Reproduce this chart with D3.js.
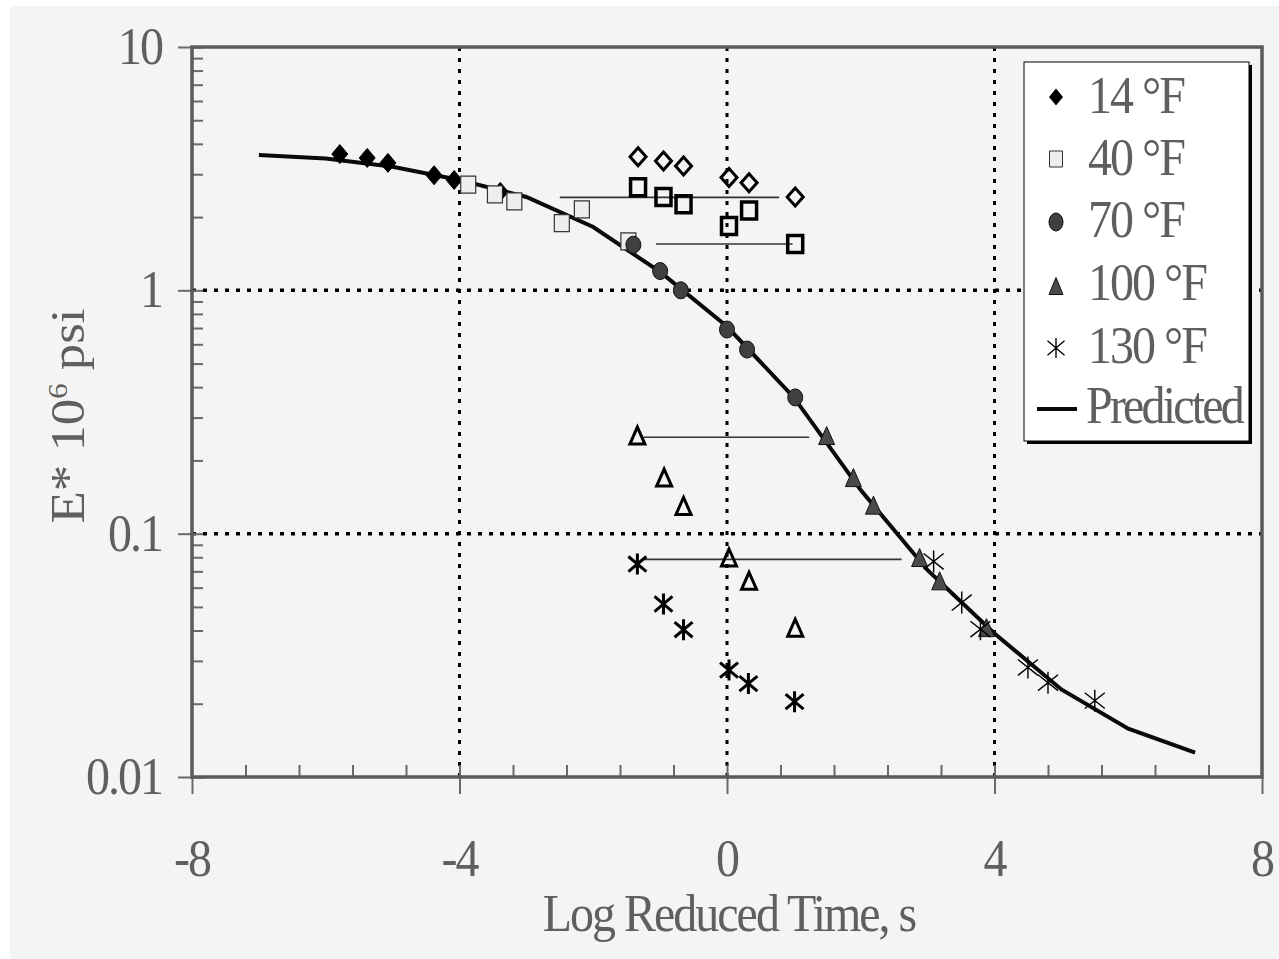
<!DOCTYPE html>
<html>
<head>
<meta charset="utf-8">
<script src="https://cdnjs.cloudflare.com/ajax/libs/d3/7.8.5/d3.min.js"></script>
<style>
  body { margin: 0; background: #ffffff; }
  text { font-family: "Liberation Serif", "Times New Roman", serif; fill: #5f5f5f; }
</style>
</head>
<body>
<div id="chart"></div>
<script>
// predicted master curve
var predX = [-7, -6, -5, -4, -3, -2, -1, 0, 1, 2, 3, 4, 5, 6, 7];
var predE = [3.60, 3.48, 3.22, 2.84, 2.42, 1.82, 1.19, 0.71, 0.363, 0.151, 0.0708, 0.0389, 0.0229, 0.0158, 0.0126];

// 14 F
var open14X = [-1.33, -0.95, -0.65, 0.03, 0.33, 1.02];
var open14E = [3.54, 3.40, 3.24, 2.91, 2.77, 2.42];
var shift14X = [-5.79, -5.38, -5.07, -4.38, -4.08, -3.39];
var shift14E = [3.63, 3.50, 3.34, 2.97, 2.84, 2.54];
// 40 F
var open40X = [-1.33, -0.95, -0.65, 0.03, 0.33, 1.02];
var open40E = [2.65, 2.42, 2.26, 1.84, 2.13, 1.55];
var shift40X = [-3.87, -3.47, -3.18, -2.47, -2.17, -1.475];
var shift40E = [2.72, 2.48, 2.32, 1.89, 2.15, 1.59];
// 70 F (reference temperature)
var ref70X = [-1.40, -1.00, -0.69, 0, 0.30, 1.02];
var ref70E = [1.54, 1.20, 1.00, 0.69, 0.571, 0.363];
// 100 F
var open100X = [-1.34, -0.94, -0.65, 0.03, 0.33, 1.02];
var open100E = [0.253, 0.170, 0.130, 0.0798, 0.064, 0.0411];
var shift100X = [1.49, 1.89, 2.19, 2.88, 3.18, 3.88];
var shift100E = [0.253, 0.170, 0.131, 0.0798, 0.064, 0.0411];
// 130 F
var open130X = [-1.34, -0.95, -0.65, 0.03, 0.32, 1.01];
var open130E = [0.0750, 0.0514, 0.0403, 0.0275, 0.0242, 0.0204];
var shift130X = [3.09, 3.51, 3.79, 4.50, 4.80, 5.50];
var shift130E = [0.0769, 0.0521, 0.0405, 0.0282, 0.0244, 0.0206];

// thin horizontal shift lines
var shiftLineX1 = [-2.50, -1.06, -1.25, -1.25];
var shiftLineX2 = [0.78, 0.98, 1.23, 2.61];
var shiftLineE = [2.41, 1.55, 0.249, 0.0784];

// axes
var xMajorTicks = [-8, -4, 0, 4, 8];
var xTickLabels = ["-8", "-4", "0", "4", "8"];
var xMinorTicks = [-7.2, -6.4, -5.6, -4.8, -4, -3.2, -2.4, -1.6, -0.8, 0, 0.8, 1.6, 2.4, 3.2, 4, 4.8, 5.6, 6.4, 7.2];
var xGrid = [-4, 0, 4];
var yMajorTicks = [0.01, 0.1, 1, 10];
var yTickLabels = ["0.01", "0.1", "1", "10"];
var yGrid = [0.1, 1];

var legendLabels = ["14 °F", "40 °F", "70 °F", "100 °F", "130 °F", "Predicted"];

var width = 1279, height = 959;
var plot = {left: 192, right: 1262, top: 47, bottom: 777};
var axisCol = "#5a5a5a";
var stretch = 1.1;   // the original figure is a little taller than wide

var svg = d3.select("#chart").append("svg")
    .attr("width", width)
    .attr("height", height);

// background
svg.append("rect").attr("width", width).attr("height", height).attr("fill", "#ffffff");
svg.append("rect").attr("x", 10).attr("y", 6)
   .attr("width", width - 10).attr("height", height - 6).attr("fill", "#f4f4f4");

var xScale = d3.scaleLinear().domain([-8, 8]).range([plot.left, plot.right]);
var yScale = d3.scaleLog().domain([0.01, 10]).range([plot.bottom, plot.top]);

// grid
svg.append("g").selectAll("line").data(xGrid).join("line")
   .attr("x1", d => xScale(d)).attr("x2", d => xScale(d))
   .attr("y1", plot.top).attr("y2", plot.bottom)
   .attr("stroke", "#000").attr("stroke-width", 3).attr("stroke-dasharray", "4,7");
svg.append("g").selectAll("line").data(yGrid).join("line")
   .attr("x1", plot.left).attr("x2", plot.right)
   .attr("y1", d => yScale(d)).attr("y2", d => yScale(d))
   .attr("stroke", "#000").attr("stroke-width", 3.5).attr("stroke-dasharray", "4,7");

// ticks
function styleAxis(g) {
  g.select(".domain").remove();
  g.selectAll(".tick line").attr("stroke", "#6a6a6a").attr("stroke-width", 2);
  g.selectAll(".tick text").remove();
}
svg.append("g").attr("transform", "translate(0," + plot.bottom + ")")
   .call(d3.axisTop(xScale).tickValues(xMinorTicks).tickSize(12)).call(styleAxis);
svg.append("g").attr("transform", "translate(0," + plot.bottom + ")")
   .call(d3.axisBottom(xScale).tickValues(xMajorTicks).tickSize(17)).call(styleAxis);
svg.append("g").attr("transform", "translate(" + plot.left + ",0)")
   .call(d3.axisRight(yScale).tickValues(yScale.ticks()).tickSize(11)).call(styleAxis);
svg.append("g").attr("transform", "translate(" + plot.left + ",0)")
   .call(d3.axisLeft(yScale).tickValues(yMajorTicks).tickSize(14)).call(styleAxis);

// frame
svg.append("rect")
   .attr("x", plot.left).attr("y", plot.top)
   .attr("width", plot.right - plot.left).attr("height", plot.bottom - plot.top)
   .attr("fill", "none").attr("stroke", axisCol).attr("stroke-width", 3.5);

// text placed with a vertical stretch
function place(x, y) { return "translate(" + x + "," + y + ") scale(1," + stretch + ")"; }

// tick labels
svg.append("g").selectAll("text").data(xMajorTicks).join("text")
   .attr("transform", d => place(xScale(d), 876))
   .attr("text-anchor", "middle")
   .attr("font-size", 48).attr("letter-spacing", -2)
   .text((d, i) => xTickLabels[i]);
svg.append("g").selectAll("text").data(yMajorTicks).join("text")
   .attr("transform", d => place(162, yScale(d) + 17))
   .attr("text-anchor", "end")
   .attr("font-size", 48).attr("letter-spacing", -2)
   .text((d, i) => yTickLabels[i]);

// axis titles
svg.append("text")
   .attr("transform", place(729, 931))
   .attr("text-anchor", "middle")
   .attr("font-size", 48).attr("letter-spacing", -2)
   .text("Log Reduced Time, s");
var yl = svg.append("text")
   .attr("transform", "translate(84,416) rotate(-90) scale(" + stretch + ",1)")
   .attr("text-anchor", "middle")
   .attr("font-size", 48).attr("letter-spacing", 0);
yl.append("tspan").text("E* 10");
yl.append("tspan").attr("font-size", 28).attr("dy", -17).text("6");
yl.append("tspan").attr("dy", 17).text(" psi");

// marker shapes
function diamond(w, h) { return "M0," + (-h/2) + "L" + (w/2) + ",0L0," + (h/2) + "L" + (-w/2) + ",0Z"; }
function square(w, h) { return "M" + (-w/2) + "," + (-h/2) + "h" + w + "v" + h + "h" + (-w) + "Z"; }
function triangle(w, h) { return "M0," + (-h/2) + "L" + (w/2) + "," + (h/2) + "L" + (-w/2) + "," + (h/2) + "Z"; }
function asterisk(w, h) {
  return "M0," + (-h/2) + "V" + (h/2) +
         "M" + (-w/2) + "," + (-h*0.36) + "L" + (w/2) + "," + (h*0.36) +
         "M" + (w/2) + "," + (-h*0.36) + "L" + (-w/2) + "," + (h*0.36);
}

// shift lines
svg.append("g").selectAll("line").data(shiftLineE).join("line")
   .attr("x1", (d, i) => xScale(shiftLineX1[i])).attr("x2", (d, i) => xScale(shiftLineX2[i]))
   .attr("y1", d => yScale(d)).attr("y2", d => yScale(d))
   .attr("stroke", "#333").attr("stroke-width", 1.6);

// predicted line
var line = d3.line().x(d => xScale(d[0])).y(d => yScale(d[1]));
svg.append("path")
   .datum(predX.map((d, i) => [d, predE[i]]))
   .attr("d", line)
   .attr("fill", "none").attr("stroke", "#0a0a0a").attr("stroke-width", 4);

function drawMarkers(xs, es, pathFn, fill, stroke, sw) {
  svg.append("g").selectAll("path").data(es).join("path")
     .attr("transform", (d, i) => "translate(" + xScale(xs[i]) + "," + yScale(d) + ")")
     .attr("d", pathFn)
     .attr("fill", fill).attr("stroke", stroke).attr("stroke-width", sw)
     .attr("stroke-linejoin", "miter");
}

// unshifted (open) markers
drawMarkers(open14X, open14E, diamond(16, 18), "none", "#000", 3);
drawMarkers(open40X, open40E, square(15, 17), "none", "#000", 3.5);
drawMarkers(open100X, open100E, triangle(15, 17), "none", "#000", 3);
drawMarkers(open130X, open130E, asterisk(18, 21), "none", "#000", 3);

// shifted (filled) markers
drawMarkers(shift14X, shift14E, diamond(16, 19), "#000", "#000", 1);
drawMarkers(shift40X, shift40E, square(15, 17), "#eeeeee", "#333", 1.2);
svg.append("g").selectAll("ellipse").data(ref70E).join("ellipse")
   .attr("cx", (d, i) => xScale(ref70X[i])).attr("cy", d => yScale(d))
   .attr("rx", 7.5).attr("ry", 8.5)
   .attr("fill", "#404040").attr("stroke", "#111").attr("stroke-width", 1);
drawMarkers(shift100X, shift100E, triangle(16, 18), "#4a4a4a", "#111", 1);
drawMarkers(shift130X, shift130E, asterisk(20, 22), "none", "#000", 1.4);

// legend
var lg = svg.append("g");
lg.append("rect").attr("x", 1027).attr("y", 65).attr("width", 225).attr("height", 379).attr("fill", "#000");
lg.append("rect").attr("x", 1024).attr("y", 62).attr("width", 225).attr("height", 379)
  .attr("fill", "#ffffff").attr("stroke", "#000").attr("stroke-width", 1);

var legY = [97, 159, 222, 286, 348, 409];
var legBase = [113, 175, 237, 300, 363, 423];
lg.append("path").attr("transform", "translate(1056," + legY[0] + ")")
  .attr("d", diamond(14, 17)).attr("fill", "#000");
lg.append("path").attr("transform", "translate(1056," + legY[1] + ")")
  .attr("d", square(13, 16)).attr("fill", "#eeeeee").attr("stroke", "#333").attr("stroke-width", 1);
lg.append("ellipse").attr("cx", 1056).attr("cy", legY[2]).attr("rx", 7).attr("ry", 9)
  .attr("fill", "#404040").attr("stroke", "#111");
lg.append("path").attr("transform", "translate(1056," + legY[3] + ")")
  .attr("d", triangle(14, 17)).attr("fill", "#4a4a4a").attr("stroke", "#111");
lg.append("path").attr("transform", "translate(1056," + legY[4] + ")")
  .attr("d", asterisk(17, 20)).attr("fill", "none").attr("stroke", "#000").attr("stroke-width", 1.4);
lg.append("line").attr("x1", 1037).attr("x2", 1077).attr("y1", legY[5]).attr("y2", legY[5])
  .attr("stroke", "#0a0a0a").attr("stroke-width", 4);

lg.selectAll("text.leg").data(legendLabels).join("text")
  .attr("class", "leg")
  .attr("transform", (d, i) => place(i == 5 ? 1086 : 1088, legBase[i]))
  .attr("font-size", 48).attr("letter-spacing", (d, i) => i == 5 ? -2.8 : -2)
  .text(d => d);
</script>
</body>
</html>
